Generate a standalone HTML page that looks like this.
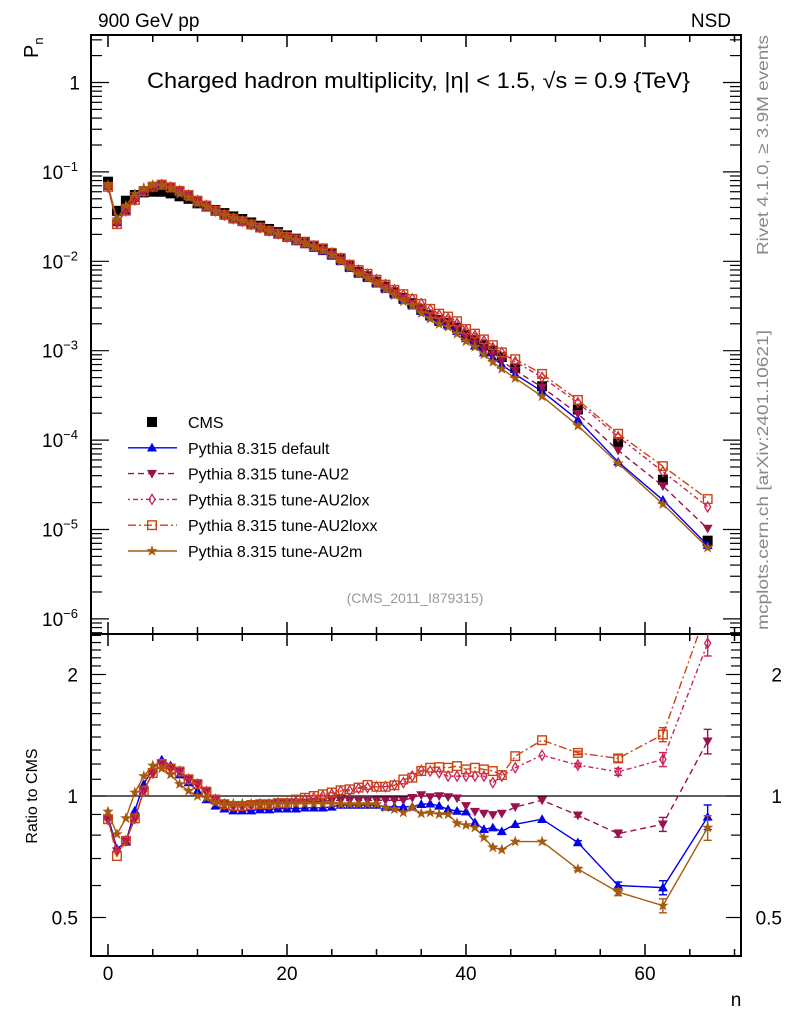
<!DOCTYPE html>
<html><head><meta charset="utf-8">
<style>
html,body{margin:0;padding:0;background:#fff;}
svg{display:block;font-family:"Liberation Sans",Arial,sans-serif;}
</style></head>
<body>
<svg id="chart" width="786" height="1024" viewBox="0 0 786 1024" xmlns="http://www.w3.org/2000/svg">
  <clipPath id="clipMain"><rect x="91" y="35" width="650" height="599"/></clipPath>
  <clipPath id="clipRatio"><rect x="91" y="634" width="650" height="322"/></clipPath>
  <text x="98" y="27" font-size="19">900 GeV pp</text>
  <text x="731" y="27" font-size="19" text-anchor="end">NSD</text>
  <text x="147" y="88" font-size="22" textLength="543" lengthAdjust="spacingAndGlyphs">Charged hadron multiplicity, |η| &lt; 1.5, √s = 0.9 {TeV}</text>
  <text transform="translate(38,58) rotate(-90)" font-size="20">P<tspan font-size="13" dy="5">n</tspan></text>
  <text transform="translate(37,796) rotate(-90)" font-size="16" text-anchor="middle">Ratio to CMS</text>
  <text x="736" y="1006" font-size="19" text-anchor="middle">n</text>
  <text transform="translate(768,255) rotate(-90)" font-size="16" fill="#888" textLength="220" lengthAdjust="spacingAndGlyphs">Rivet 4.1.0, ≥ 3.9M events</text>
  <text transform="translate(768,630) rotate(-90)" font-size="16" fill="#888" textLength="300" lengthAdjust="spacingAndGlyphs">mcplots.cern.ch [arXiv:2401.10621]</text>
  <text x="415" y="603" font-size="14" fill="#999" text-anchor="middle">(CMS_2011_I879315)</text>
  <g id="axes"></g>
  <g id="mainMarks" clip-path="url(#clipMain)"></g>
  <g id="ratioMarks" clip-path="url(#clipRatio)"></g>
  <g id="legend"></g>
</svg>
<script>
const nVals = [0,1,2,3,4,5,6,7,8,9,10,11,12,13,14,15,16,17,18,19,20,21,22,23,24,25,26,27,28,29,30,31,32,33,34,35,36,37,38,39,40,41,42,43,44,45.5,48.5,52.5,57,62,67];
const cmsVals = [0.0777,0.0367,0.0476,0.0552,0.059,0.060,0.060,0.0575,0.0533,0.050,0.0445,0.041,0.0375,0.0346,0.0318,0.0297,0.0272,0.025,0.023,0.0212,0.0195,0.0179,0.0165,0.015,0.0138,0.0122,0.0105,0.0088,0.0076,0.0068,0.0059,0.0052,0.0045,0.0039,0.0034,0.0029,0.0025,0.0022,0.00205,0.0018,0.0015,0.00132,0.00115,0.001,0.00085,0.00064,0.0004,0.00022,9.5e-5,3.6e-5,7.5e-6];
const ratioDefault = [0.89,0.74,0.77,0.92,1.07,1.17,1.23,1.19,1.13,1.08,1.03,0.98,0.945,0.93,0.92,0.92,0.92,0.925,0.925,0.93,0.93,0.93,0.935,0.935,0.935,0.94,0.95,0.95,0.95,0.95,0.95,0.94,0.94,0.94,0.94,0.954,0.957,0.945,0.927,0.918,0.915,0.86,0.827,0.835,0.817,0.851,0.876,0.767,0.60,0.593,0.888];
const ratioAU2 = [0.876,0.73,0.774,0.88,1.03,1.14,1.2,1.17,1.15,1.1,1.07,1.025,0.98,0.954,0.945,0.945,0.95,0.954,0.954,0.96,0.96,0.965,0.965,0.97,0.97,0.975,0.975,0.975,0.975,0.975,0.976,0.976,0.976,0.976,0.99,1.006,0.994,1.0,0.994,0.987,0.945,0.915,0.905,0.898,0.905,0.939,0.976,0.896,0.807,0.851,1.367];
const ratioAU2lox = [0.876,0.73,0.774,0.88,1.03,1.14,1.2,1.17,1.15,1.1,1.07,1.025,0.98,0.954,0.945,0.945,0.95,0.954,0.954,0.96,0.96,0.97,0.98,0.99,1.0,1.01,1.029,1.03,1.045,1.05,1.054,1.055,1.065,1.079,1.12,1.157,1.153,1.142,1.12,1.12,1.12,1.12,1.12,1.079,1.12,1.175,1.262,1.193,1.148,1.232,2.39];
const ratioAU2loxx = [0.876,0.71,0.774,0.88,1.03,1.14,1.2,1.17,1.15,1.1,1.07,1.025,0.98,0.954,0.945,0.945,0.95,0.954,0.954,0.96,0.96,0.98,0.99,1.0,1.01,1.02,1.033,1.039,1.049,1.065,1.054,1.054,1.063,1.099,1.11,1.153,1.175,1.179,1.175,1.186,1.164,1.175,1.164,1.153,1.127,1.255,1.375,1.279,1.239,1.42,2.92];
const ratioAU2m = [0.915,0.804,0.881,1.02,1.12,1.19,1.17,1.13,1.07,1.03,1.0,0.99,0.963,0.954,0.957,0.957,0.957,0.957,0.957,0.957,0.957,0.957,0.957,0.957,0.957,0.957,0.954,0.954,0.954,0.954,0.954,0.936,0.927,0.91,0.936,0.905,0.91,0.901,0.901,0.856,0.847,0.835,0.789,0.746,0.736,0.771,0.771,0.659,0.578,0.535,0.835];
const ratioErr = [0,0,0,0,0,0,0,0,0,0,0,0,0,0,0,0,0,0,0,0,0,0,0,0,0,0,0,0,0,0,0,0,0,0,0,0,0,0,0,0,0,0,0,0,0,0,0,0.01,0.02,0.04,0.07];
const xTicks = [0,20,40,60];
const mainTickExps = [0,-1,-2,-3,-4,-5,-6];
const ratioTickLabels = [0.5,1,2];

const NS='http://www.w3.org/2000/svg';
const L=91,R=741,T=35,M=634,B=956;
const X=n=>108+n*8.95;
const Ym=v=>82.5-Math.log10(v)*89.4;
const Yr=r=>796-Math.log2(r)*121.5;
function mk(tag,attrs,parent){const e=document.createElementNS(NS,tag);for(const k in attrs)e.setAttribute(k,attrs[k]);parent.appendChild(e);return e;}
const axes=document.getElementById('axes');
const mainG=document.getElementById('mainMarks');
const ratioG=document.getElementById('ratioMarks');
const legG=document.getElementById('legend');

let f1=mk('rect',{x:L,y:T,width:R-L,height:M-T,fill:'none',stroke:'#000','stroke-width':2},axes);


let f2=mk('rect',{x:L,y:M,width:R-L,height:B-M,fill:'none',stroke:'#000','stroke-width':2},axes);



for(let n=0;n<=70;n+=5){
  const major=n%20===0, len=major?12:7, x=X(n);
  [[T,1],[M,-1],[M,1],[B,-1]].forEach(([y,d])=>{mk('line',{x1:x,x2:x,y1:y,y2:y+d*len,stroke:'#000','stroke-width':1.5},axes);});
}
xTicks.forEach(n=>{
  const t=mk('text',{x:X(n),y:980,'font-size':19,'text-anchor':'middle'},axes);
  t.textContent=n;
  
  
});
for(let e=0;e>=-7;e--){
  for(let k=1;k<10;k++){
    const v=k*Math.pow(10,e), y=Ym(v);
    if(y<T||y>M)continue;
    const len=k===1?18:11;
    mk('line',{x1:L,x2:L+len,y1:y,y2:y,stroke:'#000','stroke-width':1.2},axes);
    mk('line',{x1:R,x2:R-len,y1:y,y2:y,stroke:'#000','stroke-width':1.2},axes);
  }
}
mainTickExps.forEach(e=>{
  const y=Ym(Math.pow(10,e));
  const t=mk('text',{x:e===0?80:78,y:y+7,'font-size':19,'text-anchor':'end'},axes);
  
  
  if(e===0){t.textContent='1';}
  else{t.textContent='10';const s=mk('tspan',{dy:-8,'font-size':13},t);s.textContent='−'+(-e);}
});
for(let r=0.4;r<=2.55;r+=0.1){
  const y=Yr(r); if(y<M||y>B)continue;
  const maj=[0.5,1,2].some(m=>Math.abs(m-r)<1e-6), len=maj?15:10;
  mk('line',{x1:L,x2:L+len,y1:y,y2:y,stroke:'#000','stroke-width':1.2},axes);
  mk('line',{x1:R,x2:R-len,y1:y,y2:y,stroke:'#000','stroke-width':1.2},axes);
}
ratioTickLabels.forEach(r=>{
  const y=Yr(r)+7;
  const t=mk('text',{x:78,y:y,'font-size':19,'text-anchor':'end'},axes);t.textContent=r;
  
  
  const t2=mk('text',{x:782,y:y,'font-size':19,'text-anchor':'end'},axes);t2.textContent=r;
  
  
});
let one=mk('line',{x1:L,x2:R,y1:Yr(1),y2:Yr(1),stroke:'#000','stroke-width':1.2},axes);



function marker(type,x,y,color,s,parent){
  let e;
  if(type==='square') e=mk('rect',{x:x-s,y:y-s,width:2*s,height:2*s,fill:color},parent);
  else if(type==='osquare') e=mk('rect',{x:x-s+0.7,y:y-s+0.7,width:2*s-1.4,height:2*s-1.4,fill:'#fff','fill-opacity':0,stroke:color,'stroke-width':1.4},parent);
  else if(type==='tup') e=mk('polygon',{points:`${x},${y-s} ${x-s},${y+s*0.75} ${x+s},${y+s*0.75}`,fill:color},parent);
  else if(type==='tdown') e=mk('polygon',{points:`${x},${y+s} ${x-s},${y-s*0.75} ${x+s},${y-s*0.75}`,fill:color},parent);
  else if(type==='diamond') e=mk('polygon',{points:`${x},${y-s} ${x-s*0.6},${y} ${x},${y+s} ${x+s*0.6},${y}`,fill:'none',stroke:color,'stroke-width':1.3},parent);
  else { let p=[];for(let i=0;i<10;i++){const a=-Math.PI/2+i*Math.PI/5,rr=i%2?s*0.4:s;p.push((x+rr*Math.cos(a)).toFixed(1)+','+(y+rr*Math.sin(a)).toFixed(1));}
    e=mk('polygon',{points:p.join(' '),fill:color},parent);}
  return e;
}

const series=[
  {name:'default',label:'Pythia 8.315 default',ratio:ratioDefault,color:'#0000ee',dash:'',m:'tup',s:5},
  {name:'au2',label:'Pythia 8.315 tune-AU2',ratio:ratioAU2,color:'#99114d',dash:'6,4',m:'tdown',s:5},
  {name:'au2lox',label:'Pythia 8.315 tune-AU2lox',ratio:ratioAU2lox,color:'#cc2255',dash:'2,3,5,3',m:'diamond',s:5},
  {name:'au2loxx',label:'Pythia 8.315 tune-AU2loxx',ratio:ratioAU2loxx,color:'#c84413',dash:'8,3,2,3',m:'osquare',s:5},
  {name:'au2m',label:'Pythia 8.315 tune-AU2m',ratio:ratioAU2m,color:'#a55a10',dash:'',m:'star',s:6}
];

cmsVals.forEach((v,i)=>{
  const e=marker('square',X(nVals[i]),Ym(v),'#000',5,mainG);
  
  
});
series.forEach(sr=>{
  const mainPts=nVals.map((n,i)=>[X(n),Ym(cmsVals[i]*sr.ratio[i])]);
  const ratPts=nVals.map((n,i)=>[X(n),Yr(sr.ratio[i])]);
  const l1=mk('polyline',{points:mainPts.map(p=>p.join(',')).join(' '),fill:'none',stroke:sr.color,'stroke-width':1.4,'stroke-dasharray':sr.dash},mainG);
  
  
  const l2=mk('polyline',{points:ratPts.map(p=>p.join(',')).join(' '),fill:'none',stroke:sr.color,'stroke-width':1.4,'stroke-dasharray':sr.dash},ratioG);
  
  
  mainPts.forEach(p=>{
    const e=marker(sr.m,p[0],p[1],sr.color,sr.s,mainG);
    
    
  });
  ratPts.forEach((p,i)=>{
    const er=ratioErr[i];
    if(er>0){
      const y1=Yr(sr.ratio[i]*(1+er)),y2=Yr(sr.ratio[i]*(1-er));
      const b=mk('line',{x1:p[0],x2:p[0],y1:y1,y2:y2,stroke:sr.color,'stroke-width':1.4},ratioG);
      
      
      mk('line',{x1:p[0]-4,x2:p[0]+4,y1:y1,y2:y1,stroke:sr.color,'stroke-width':1.4},ratioG);
      mk('line',{x1:p[0]-4,x2:p[0]+4,y1:y2,y2:y2,stroke:sr.color,'stroke-width':1.4},ratioG);
    }
    const e=marker(sr.m,p[0],p[1],sr.color,sr.s,ratioG);
    
    
  });
});

const ly0=422, ldy=25.8;
{
  const e=marker('square',152,ly0,'#000',5,legG);
  
  
  const t=mk('text',{x:188,y:ly0+6,'font-size':16},legG);t.textContent='CMS';
  
  
}
series.forEach((sr,k)=>{
  const y=ly0+ldy*(k+1);
  const l=mk('line',{x1:128,x2:177,y1:y,y2:y,stroke:sr.color,'stroke-width':1.4,'stroke-dasharray':sr.dash},legG);
  
  
  const e=marker(sr.m,152,y,sr.color,sr.s,legG);
  
  
  const t=mk('text',{x:188,y:y+6,'font-size':16},legG);t.textContent=sr.label;
  
  
});
</script>
</body></html>
